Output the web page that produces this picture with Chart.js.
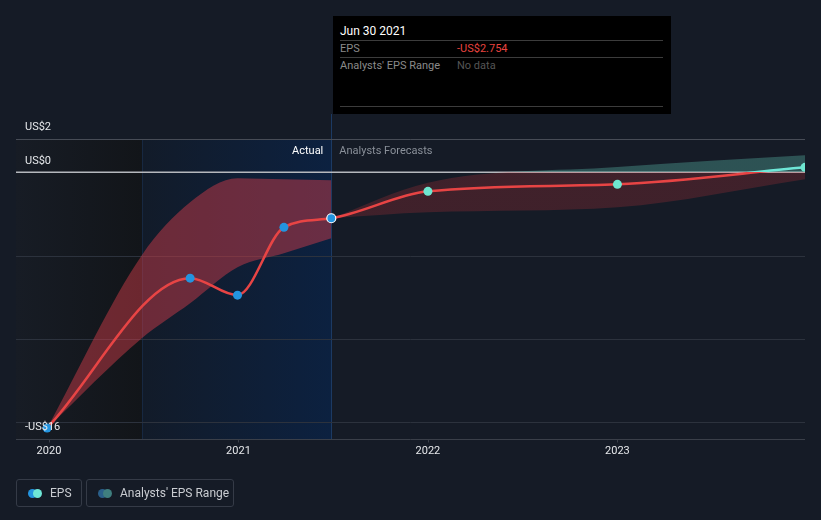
<!DOCTYPE html>
<html>
<head>
<meta charset="utf-8">
<script src="https://cdn.jsdelivr.net/npm/chart.js@4.4.0/dist/chart.umd.min.js"></script>
<style>
  body { margin: 0; background: #151b26; font-family: Roboto, sans-serif; }
  #wrap { position: relative; width: 821px; height: 520px; }
  #tip { position: absolute; left: 333px; top: 16px; width: 338px; height: 98px; background: #000; font-size: 11px; }
  #tip .t { position: absolute; left: 7px; top: 8px; color: #fff; font-size: 12px; }
  #tip .ln { position: absolute; left: 7px; width: 323px; height: 1px; background: #3c3c3c; }
  #tip .k { position: absolute; left: 7px; color: #8a8a8a; }
  #tip .v { position: absolute; left: 124px; }
  .leg { position: absolute; top: 479px; height: 26px; border: 1px solid #353b47; border-radius: 3px; color: #c9ccd1; font-size: 12px; line-height: 26px; }
  .leg .d { position: absolute; top: 9px; width: 9px; height: 9px; border-radius: 50%; }
</style>
</head>
<body>
<div id="wrap">
  <canvas id="epsChart"></canvas>
  <div id="tip">
    <div class="t">Jun 30 2021</div>
    <div class="ln" style="top:24px"></div>
    <div class="k" style="top:26px">EPS</div>
    <div class="v" style="top:26px;color:#e8433f">-US$2.754</div>
    <div class="ln" style="top:41px"></div>
    <div class="k" style="top:43px">Analysts' EPS Range</div>
    <div class="v" style="top:43px;color:#555">No data</div>
    <div class="ln" style="top:90px"></div>
  </div>
  <div class="leg" style="left:16px;width:64px">
    <span class="d" style="left:11px;background:#2394df"></span>
    <span class="d" style="left:16px;background:#6ee7d7"></span>
    <span style="position:absolute;left:33px">EPS</span>
  </div>
  <div class="leg" style="left:86px;width:146px">
    <span class="d" style="left:11px;background:#2a5f8a"></span>
    <span class="d" style="left:16px;background:#3f7f7f"></span>
    <span style="position:absolute;left:33px">Analysts' EPS Range</span>
  </div>
</div>
<script>
// EPS, actual then forecast (x = decimal year)
const epsX = [2019.99, 2020.745, 2020.995, 2021.24, 2021.49, 2022.0, 2023.0, 2023.99];
const epsY = [-15.34, -6.35, -7.37, -3.30, -2.754, -1.14, -0.72, 0.30];
const actualCount = 5;

// analysts' range over the past
const histBandX = [2019.99, 2020.49, 2020.745, 2020.995, 2021.24, 2021.49];
const histBandHigh = [-15.34, -4.97, -1.8, -0.36, -0.42, -0.48];
const histBandLow = [-15.34, -9.95, -7.85, -5.69, -4.85, -3.95];

// analysts' range forecast
const fcBandX = [2021.49, 2022.0, 2023.0, 2023.99];
const fcBandHigh = [-2.754, -0.62, 0.32, 1.02];
const fcBandLow = [-2.754, -2.40, -2.10, -0.42];

const yLabels = [[2, 'US$2'], [0, 'US$0'], [-16, '-US$16']];
const yGrid = [2, -5, -10, -15];
const xTicks = [2020, 2021, 2022, 2023];
const pastStart = 2020.49;
const nowX = 2021.49;

const pts = (xs, ys) => xs.map((x, i) => ({ x: x, y: ys[i] }));

function splitAtZero(chart, above, below) {
    const area = chart.chartArea;
    if (!area) return below;
    const y0 = chart.scales.y.getPixelForValue(0);
    const g = chart.ctx.createLinearGradient(0, area.top, 0, area.bottom);
    const s = Math.min(1, Math.max(0, (y0 - area.top) / (area.bottom - area.top)));
    g.addColorStop(0, above);
    g.addColorStop(s, above);
    g.addColorStop(s, below);
    g.addColorStop(1, below);
    return g;
}

const backdrop = {
    id: 'backdrop',
    beforeDraw(chart) {
        const { ctx, chartArea: a, scales: { x, y } } = chart;
        ctx.save();
        ctx.fillStyle = '#151b26';
        ctx.fillRect(0, 0, chart.width, chart.height);

        const xp = Math.round(x.getPixelForValue(pastStart));
        const xn = Math.round(x.getPixelForValue(nowX));
        let g = ctx.createLinearGradient(a.left, 0, xp, 0);
        g.addColorStop(0, '#171c25');
        g.addColorStop(1, '#121519');
        ctx.fillStyle = g;
        ctx.fillRect(a.left, a.top, xp - a.left, a.bottom - a.top);

        g = ctx.createLinearGradient(xp, 0, xn, 0);
        g.addColorStop(0, '#121b29');
        g.addColorStop(1, '#0c2140');
        ctx.fillStyle = g;
        ctx.fillRect(xp, a.top, xn - xp, a.bottom - a.top);

        ctx.strokeStyle = 'rgba(40,80,140,0.25)';
        ctx.lineWidth = 1;
        ctx.beginPath();
        ctx.moveTo(xp + 0.5, a.top);
        ctx.lineTo(xp + 0.5, a.bottom);
        ctx.stroke();
        ctx.strokeStyle = '#1c3a63';
        ctx.beginPath();
        ctx.moveTo(xn + 0.5, 114);
        ctx.lineTo(xn + 0.5, a.bottom);
        ctx.stroke();

        // grid
        ctx.strokeStyle = '#2c323d';
        yGrid.forEach(v => {
            const py = Math.round(y.getPixelForValue(v)) + 0.5;
            ctx.beginPath();
            ctx.moveTo(a.left, py);
            ctx.lineTo(a.right, py);
            ctx.stroke();
        });
        ctx.strokeStyle = '#474c56';
        ctx.beginPath();
        ctx.moveTo(a.left, a.top + 0.5);
        ctx.lineTo(a.right, a.top + 0.5);
        ctx.stroke();
        const pb = Math.round(a.bottom) + 0.5;
        ctx.strokeStyle = '#3a3f49';
        ctx.beginPath();
        ctx.moveTo(a.left, pb);
        ctx.lineTo(a.right, pb);
        ctx.stroke();
        xTicks.forEach(v => {
            const px = Math.round(x.getPixelForValue(v)) + 0.5;
            ctx.beginPath();
            ctx.moveTo(px, pb);
            ctx.lineTo(px, pb + 3);
            ctx.stroke();
        });
        ctx.restore();
    },
    beforeDatasetsDraw(chart) {
        const { ctx, chartArea: a, scales: { y } } = chart;
        const p0 = y.getPixelForValue(0);
        ctx.save();
        ctx.strokeStyle = '#b5b8bd';
        ctx.lineWidth = 1.5;
        ctx.beginPath();
        ctx.moveTo(a.left, p0);
        ctx.lineTo(a.right, p0);
        ctx.stroke();
        ctx.restore();
    },
    afterDraw(chart) {
        const { ctx, chartArea: a, scales: { x, y } } = chart;
        ctx.save();
        ctx.font = '11px Roboto';
        ctx.textBaseline = 'middle';
        ctx.fillStyle = '#e6e8eb';
        yLabels.forEach(([v, t]) => {
            ctx.fillText(t, 25, y.getPixelForValue(v) - 11.5);
        });
        ctx.textAlign = 'center';
        xTicks.forEach(v => {
            ctx.fillText(String(v), x.getPixelForValue(v), a.bottom + 12);
        });
        const xn = x.getPixelForValue(nowX);
        ctx.textAlign = 'right';
        ctx.fillStyle = '#ffffff';
        ctx.fillText('Actual', xn - 8, 151);
        ctx.textAlign = 'left';
        ctx.fillStyle = '#8a9099';
        ctx.fillText('Analysts Forecasts', xn + 8, 151);
        ctx.restore();
    }
};

const ctx = document.getElementById('epsChart').getContext('2d');
new Chart(ctx, {
    type: 'line',
    data: {
        datasets: [{
            label: 'EPS',
            data: pts(epsX, epsY),
            order: 0,
            borderColor: c => splitAtZero(c.chart, '#6ee7d7', '#e84444'),
            borderWidth: 2.5,
            cubicInterpolationMode: 'monotone',
            pointRadius: 4.5,
            pointBackgroundColor: epsX.map((_, i) => i < actualCount ? '#2394df' : '#6ee7d0'),
            pointBorderColor: epsX.map((_, i) => i === actualCount - 1 ? '#ffffff' : 'rgba(0,0,0,0)'),
            pointBorderWidth: 1.2,
            fill: false
        }, {
            label: 'hist high',
            data: pts(histBandX, histBandHigh),
            order: 1,
            borderWidth: 0,
            pointRadius: 0,
            cubicInterpolationMode: 'monotone',
            backgroundColor: 'rgba(220,62,75,0.45)',
            fill: '+1'
        }, {
            label: 'hist low',
            data: pts(histBandX, histBandLow),
            order: 2,
            borderWidth: 0,
            pointRadius: 0,
            cubicInterpolationMode: 'monotone',
            fill: false
        }, {
            label: 'range high',
            data: pts(fcBandX, fcBandHigh),
            order: 3,
            borderWidth: 0,
            pointRadius: 0,
            cubicInterpolationMode: 'monotone',
            backgroundColor: c => splitAtZero(c.chart, 'rgba(100,210,190,0.3)', 'rgba(205,52,58,0.23)'),
            fill: '+1'
        }, {
            label: 'range low',
            data: pts(fcBandX, fcBandLow),
            order: 4,
            borderWidth: 0,
            pointRadius: 0,
            cubicInterpolationMode: 'monotone',
            fill: false
        }]
    },
    options: {
        responsive: true,
        maintainAspectRatio: false,
        animation: false,
        layout: {
            padding: { left: 16, right: 16, top: 139, bottom: 81 }
        },
        scales: {
            x: { type: 'linear', min: 2019.826, max: 2023.99, display: false },
            y: { min: -16, max: 2, display: false }
        },
        plugins: {
            legend: { display: false },
            tooltip: { enabled: false }
        },
        events: []
    },
    plugins: [backdrop]
});
</script>
</body>
</html>
